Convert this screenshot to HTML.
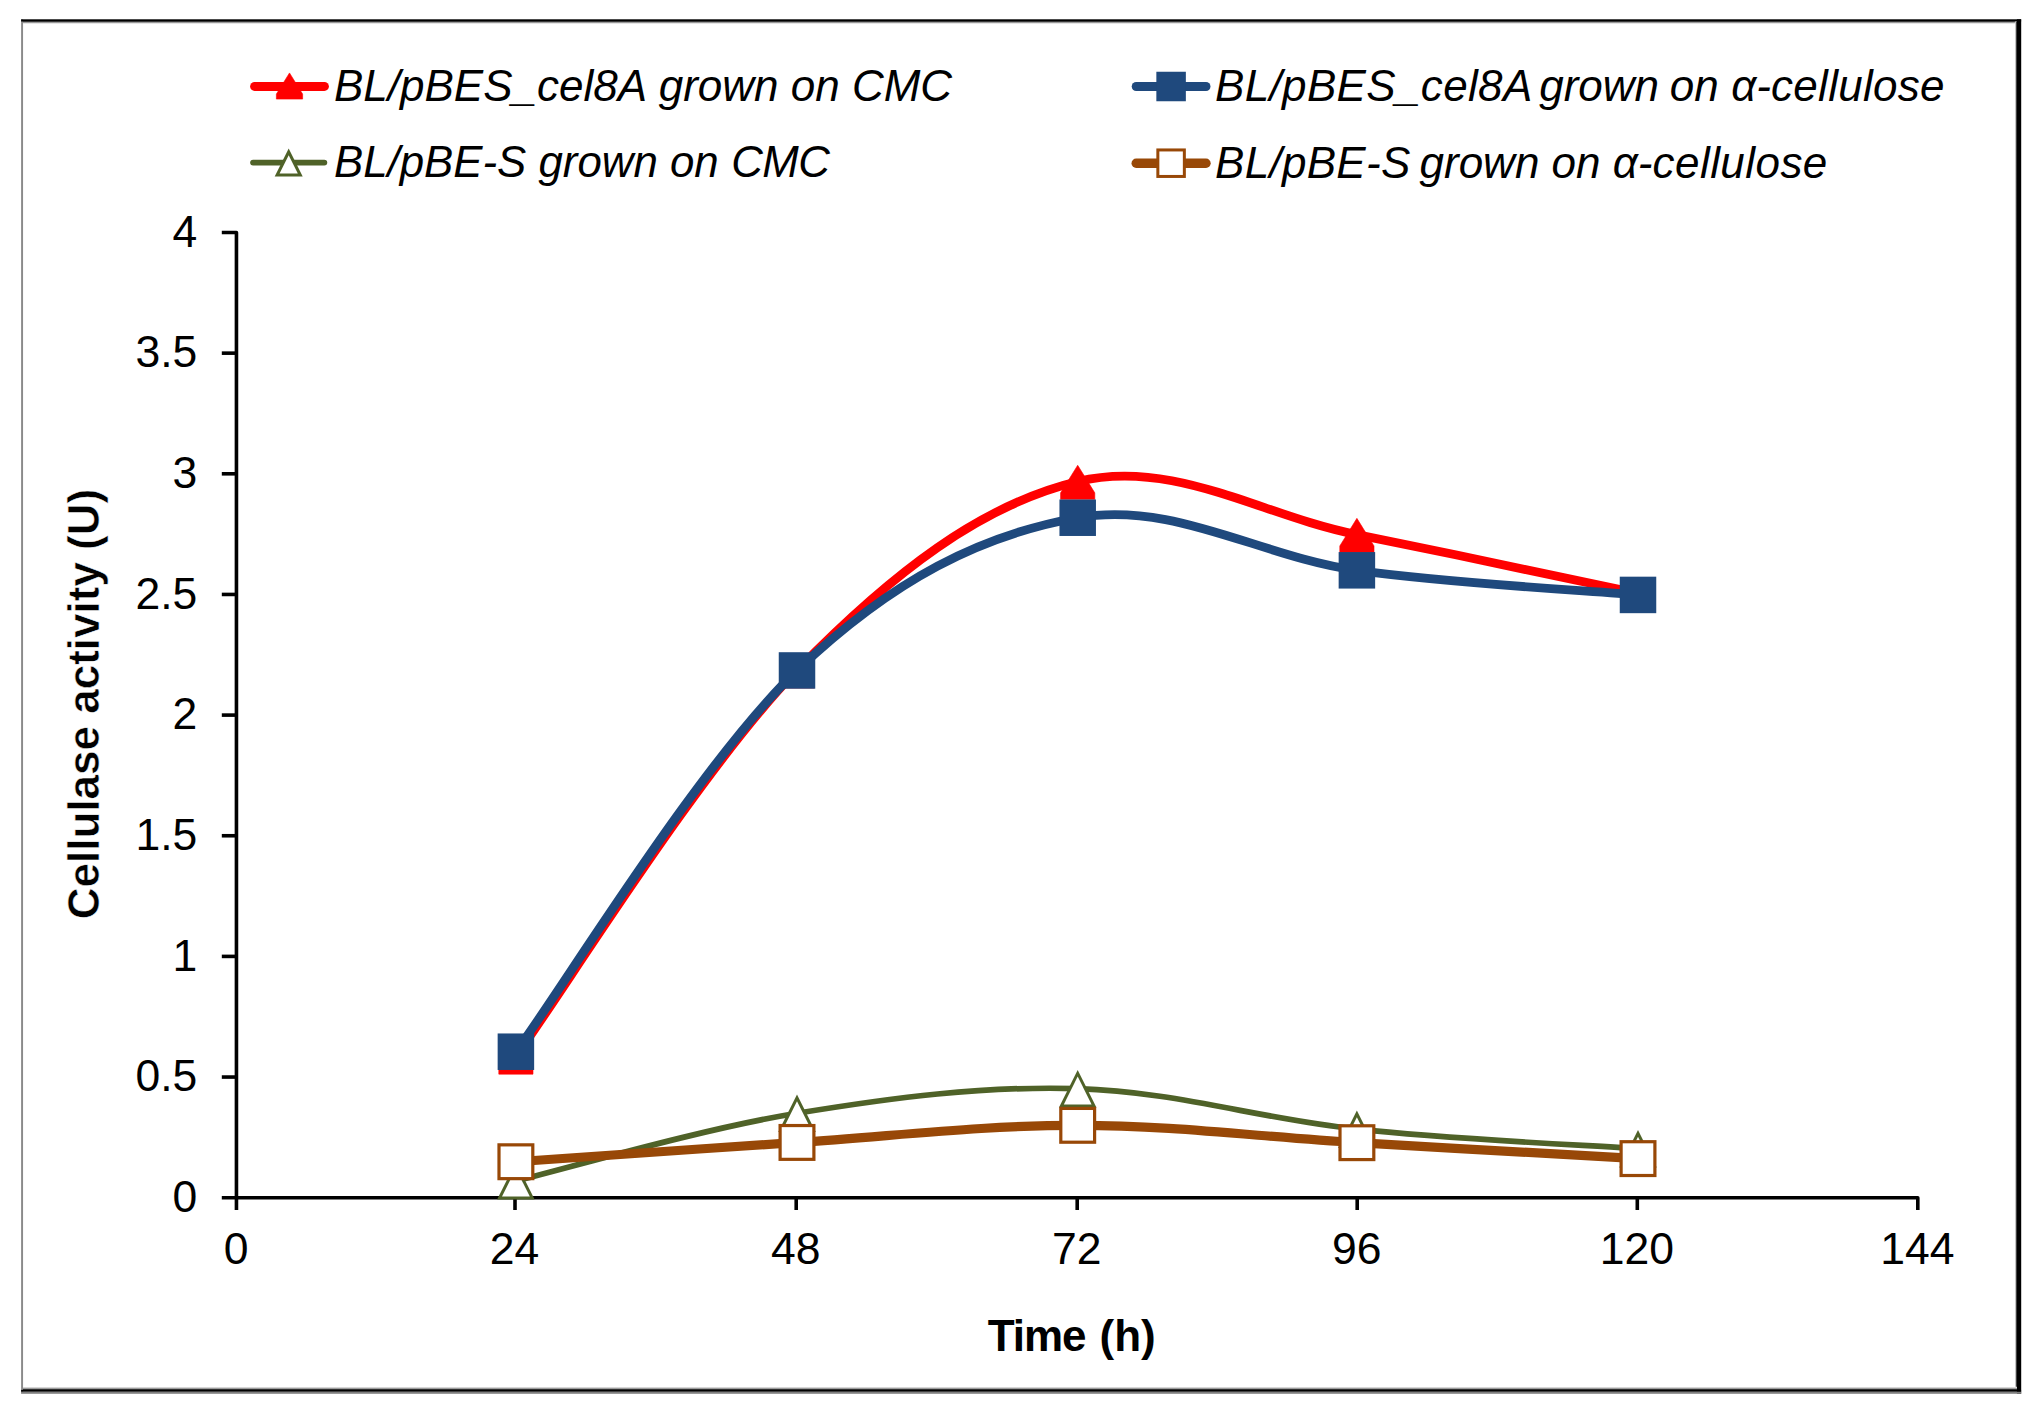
<!DOCTYPE html>
<html lang="en"><head><meta charset="utf-8"><title>Cellulase activity</title>
<style>html,body{margin:0;padding:0;background:#fff;}svg{display:block;}text{font-family:"Liberation Sans",sans-serif;fill:#000;}</style>
</head><body>
<svg width="2033" height="1412" viewBox="0 0 2033 1412">
<rect width="2033" height="1412" fill="#fff"/>
<defs>
<linearGradient id="gT" x1="0" y1="0" x2="0" y2="1"><stop offset="0" stop-color="#000"/><stop offset="0.25" stop-color="#777"/><stop offset="1" stop-color="#fff"/></linearGradient>
<linearGradient id="gB" x1="0" y1="0" x2="0" y2="1"><stop offset="0" stop-color="#fff"/><stop offset="0.55" stop-color="#999"/><stop offset="1" stop-color="#000"/></linearGradient>
<linearGradient id="gR" x1="0" y1="0" x2="1" y2="0"><stop offset="0" stop-color="#fff"/><stop offset="0.5" stop-color="#999"/><stop offset="1" stop-color="#000"/></linearGradient>
</defs>
<g id="frame">
<rect x="21.1" y="19.4" width="1.95" height="1373" fill="#8a8a8a"/>
<rect x="23" y="21.4" width="1993" height="2.5" fill="url(#gT)"/>
<rect x="21.1" y="19.3" width="2000" height="2.2" fill="#000"/>
<rect x="2014.9" y="21.5" width="2.1" height="1368" fill="url(#gR)"/>
<rect x="2016.9" y="19.3" width="4.3" height="1374.5" fill="#000"/>
<rect x="23" y="1386.8" width="1994" height="3.2" fill="url(#gB)"/>
<rect x="21.1" y="1389.9" width="2000" height="1.9" fill="#000"/>
<rect x="21.1" y="1391.8" width="2000" height="2.0" fill="#808080"/>
</g>
<g id="axes" stroke="#000" stroke-width="3.6" fill="none" stroke-linecap="butt" stroke-linejoin="round">
<path d="M221.8 232.50 H236.45 V1210"/>
<path d="M221.8 1197.70 H1917.80 V1210"/>
<path d="M221.8 1077.05 H236.45"/>
<path d="M221.8 956.40 H236.45"/>
<path d="M221.8 835.75 H236.45"/>
<path d="M221.8 715.10 H236.45"/>
<path d="M221.8 594.45 H236.45"/>
<path d="M221.8 473.80 H236.45"/>
<path d="M221.8 353.15 H236.45"/>
<path d="M515.00 1197.70 V1210"/>
<path d="M796.20 1197.70 V1210"/>
<path d="M1077.20 1197.70 V1210"/>
<path d="M1357.20 1197.70 V1210"/>
<path d="M1637.30 1197.70 V1210"/>
</g>
<g id="ylabels" font-size="44.5" text-anchor="end">
<text x="197.3" y="1212.00">0</text>
<text x="197.3" y="1091.35">0.5</text>
<text x="197.3" y="970.70">1</text>
<text x="197.3" y="850.05">1.5</text>
<text x="197.3" y="729.40">2</text>
<text x="197.3" y="608.75">2.5</text>
<text x="197.3" y="488.10">3</text>
<text x="197.3" y="367.45">3.5</text>
<text x="197.3" y="246.80">4</text>
</g>
<g id="xlabels" font-size="44.5" text-anchor="middle">
<text x="236.05" y="1263.8">0</text>
<text x="514.60" y="1263.8">24</text>
<text x="795.80" y="1263.8">48</text>
<text x="1076.80" y="1263.8">72</text>
<text x="1356.80" y="1263.8">96</text>
<text x="1636.90" y="1263.8">120</text>
<text x="1917.40" y="1263.8">144</text>
</g>
<text id="xtitle" y="1350.5" font-size="44" font-weight="bold"><tspan x="987.8" letter-spacing="-1.1">Time </tspan><tspan x="1099.6">(h)</tspan></text>
<text id="ytitle" transform="translate(99.2,704) rotate(-90)" font-size="44" font-weight="bold" text-anchor="middle" stroke="#fff" stroke-width="0.5">Cellulase activity (U)</text>
<g id="s-red">
<path d="M515.90 1056.30 C564.25 989.89 700.37 769.08 797.00 670.22 C893.63 571.36 981.40 504.85 1077.70 481.52 C1174.00 458.20 1260.53 515.39 1356.90 534.61 C1453.27 553.82 1589.65 583.16 1638.00 593.24" fill="none" stroke="#FF0000" stroke-width="8.8" stroke-linecap="round" stroke-linejoin="round"/>
<path d="M515.90 1040.05 L533.00 1067.65 L533.00 1074.15 L498.80 1074.15 L498.80 1067.65 Z" fill="#FF0000" stroke="#FF0000" stroke-width="0.60" stroke-linejoin="round"/>
<path d="M797.00 653.97 L814.10 681.57 L814.10 688.07 L779.90 688.07 L779.90 681.57 Z" fill="#FF0000" stroke="#FF0000" stroke-width="0.60" stroke-linejoin="round"/>
<path d="M1077.70 465.27 L1094.80 492.87 L1094.80 499.37 L1060.60 499.37 L1060.60 492.87 Z" fill="#FF0000" stroke="#FF0000" stroke-width="0.60" stroke-linejoin="round"/>
<path d="M1356.90 518.36 L1374.00 545.96 L1374.00 552.46 L1339.80 552.46 L1339.80 545.96 Z" fill="#FF0000" stroke="#FF0000" stroke-width="0.60" stroke-linejoin="round"/>
<path d="M1638.00 576.99 L1655.10 604.59 L1655.10 611.09 L1620.90 611.09 L1620.90 604.59 Z" fill="#FF0000" stroke="#FF0000" stroke-width="0.60" stroke-linejoin="round"/>
</g>
<g id="s-blue">
<path d="M515.90 1051.71 C564.25 986.14 700.37 762.31 797.00 670.46 C893.63 578.61 981.40 534.94 1077.70 517.72 C1174.00 500.49 1260.53 557.04 1356.90 570.32 C1453.27 583.60 1589.65 590.70 1638.00 594.93" fill="none" stroke="#1F497D" stroke-width="8.8" stroke-linecap="round" stroke-linejoin="round"/>
<rect x="497.65" y="1033.46" width="36.50" height="36.50" fill="#1F497D"/>
<rect x="778.75" y="652.21" width="36.50" height="36.50" fill="#1F497D"/>
<rect x="1059.45" y="499.47" width="36.50" height="36.50" fill="#1F497D"/>
<rect x="1338.65" y="552.07" width="36.50" height="36.50" fill="#1F497D"/>
<rect x="1619.75" y="576.68" width="36.50" height="36.50" fill="#1F497D"/>
</g>
<g id="s-green">
<path d="M515.90 1180.81 C564.25 1169.19 700.37 1129.10 797.00 1113.25 C893.63 1097.39 981.40 1085.89 1077.70 1088.63 C1174.00 1091.37 1260.53 1118.84 1356.90 1129.17 C1453.27 1139.51 1589.65 1145.35 1638.00 1148.72" fill="none" stroke="#4F6228" stroke-width="5.7" stroke-linecap="round" stroke-linejoin="round"/>
<path d="M515.90 1162.06 L534.65 1199.56 L497.15 1199.56 Z" fill="#4F6228"/><path d="M515.90 1168.77 L529.80 1196.56 L502.00 1196.56 Z" fill="#fff"/>
<path d="M797.00 1094.50 L815.75 1132.00 L778.25 1132.00 Z" fill="#4F6228"/><path d="M797.00 1101.20 L810.90 1129.00 L783.10 1129.00 Z" fill="#fff"/>
<path d="M1077.70 1069.88 L1096.45 1107.38 L1058.95 1107.38 Z" fill="#4F6228"/><path d="M1077.70 1076.59 L1091.60 1104.38 L1063.80 1104.38 Z" fill="#fff"/>
<path d="M1356.90 1110.42 L1375.65 1147.92 L1338.15 1147.92 Z" fill="#4F6228"/><path d="M1356.90 1117.13 L1370.80 1144.92 L1343.00 1144.92 Z" fill="#fff"/>
<path d="M1638.00 1129.97 L1656.75 1167.47 L1619.25 1167.47 Z" fill="#4F6228"/><path d="M1638.00 1136.67 L1651.90 1164.47 L1624.10 1164.47 Z" fill="#fff"/>
</g>
<g id="s-brown">
<path d="M515.90 1161.75 C564.25 1158.43 700.37 1148.71 797.00 1142.44 C893.63 1136.18 981.40 1125.27 1077.70 1125.31 C1174.00 1125.35 1260.53 1136.96 1356.90 1142.68 C1453.27 1148.41 1589.65 1155.87 1638.00 1158.61" fill="none" stroke="#984807" stroke-width="9.2" stroke-linecap="round" stroke-linejoin="round"/>
<rect x="499.00" y="1144.85" width="33.80" height="33.80" fill="#fff" stroke="#984807" stroke-width="3.20"/>
<rect x="780.10" y="1125.54" width="33.80" height="33.80" fill="#fff" stroke="#984807" stroke-width="3.20"/>
<rect x="1060.80" y="1108.41" width="33.80" height="33.80" fill="#fff" stroke="#984807" stroke-width="3.20"/>
<rect x="1340.00" y="1125.78" width="33.80" height="33.80" fill="#fff" stroke="#984807" stroke-width="3.20"/>
<rect x="1621.10" y="1141.71" width="33.80" height="33.80" fill="#fff" stroke="#984807" stroke-width="3.20"/>
</g>
<g id="legend" font-size="44" font-style="italic">
<path d="M254.60 86.40 H324.40" stroke="#FF0000" stroke-width="9.0" stroke-linecap="round" fill="none"/>
<path d="M289.50 72.93 L302.62 94.11 L302.62 99.09 L276.38 99.09 L276.38 94.11 Z" fill="#FF0000" stroke="#FF0000" stroke-width="0.60" stroke-linejoin="round"/>
<text x="334.00" y="100.80" font-size="44"><tspan>BL/pBES_cel8A </tspan><tspan dx="1.00">grown on CMC</tspan></text>
<path d="M1136.20 86.50 H1206.00" stroke="#1F497D" stroke-width="9.0" stroke-linecap="round" fill="none"/>
<rect x="1156.35" y="71.75" width="29.50" height="29.50" fill="#1F497D"/>
<text x="1215.00" y="100.90" font-size="44"><tspan letter-spacing="0.35">BL/pBES_cel8A</tspan><tspan dx="-5.70"> grown</tspan><tspan dx="-1.50"> on</tspan><tspan dx="0.30"> α-</tspan><tspan letter-spacing="0.30">cellulose</tspan></text>
<path d="M253.10 162.60 H324.30" stroke="#4F6228" stroke-width="5.9" stroke-linecap="round" fill="none"/>
<path d="M288.70 148.60 L302.70 176.60 L274.70 176.60 Z" fill="#4F6228"/><path d="M288.70 155.31 L297.85 173.60 L279.55 173.60 Z" fill="#fff"/>
<text x="334.00" y="177.00" font-size="43.8"><tspan>BL/pBE-S grown on </tspan><tspan dx="0.50" letter-spacing="-0.60">CMC</tspan></text>
<path d="M1136.20 163.20 H1206.00" stroke="#984807" stroke-width="9.399999999999999" stroke-linecap="round" fill="none"/>
<rect x="1157.85" y="149.95" width="26.50" height="26.50" fill="#fff" stroke="#984807" stroke-width="3.00"/>
<text x="1215.00" y="177.60" font-size="44"><tspan letter-spacing="0.30">BL/pBE-S</tspan><tspan dx="-3.30"> grown</tspan><tspan> on</tspan><tspan> α-</tspan><tspan letter-spacing="0.45">cellulose</tspan></text>
</g>
</svg>
</body></html>
